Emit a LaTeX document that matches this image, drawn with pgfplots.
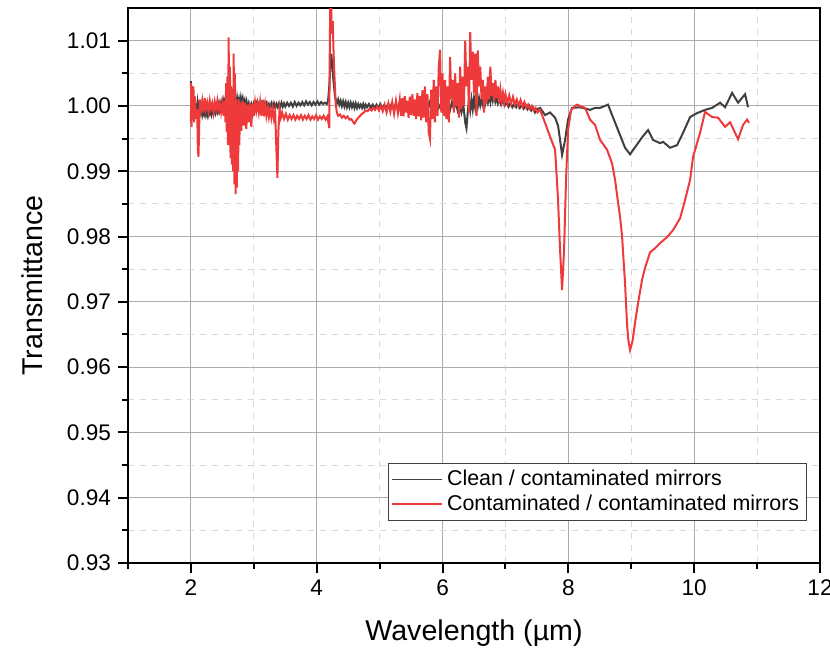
\documentclass[border=0pt]{standalone}
\usepackage{pgfplots}
\pgfplotsset{compat=1.18}
\usepackage{fontspec}
\setmainfont{Liberation Sans}
\definecolor{cleanc}{RGB}{64,64,64}
\definecolor{contc}{RGB}{238,58,58}
\begin{document}
\begin{tikzpicture}
\useasboundingbox (-64pt,-45pt) rectangle (351pt,281.5pt);
\begin{axis}[
  at={(0,0)}, anchor=south west,
  scale only axis, width=346pt, height=277.5pt,
  xmin=1, xmax=12, ymin=0.93, ymax=1.015,
  xtick={2,4,6,8,10,12}, minor xtick={1,3,5,7,9,11},
  ytick={0.93,0.94,0.95,0.96,0.97,0.98,0.99,1.00,1.01},
  minor ytick={0.935,0.945,0.955,0.965,0.975,0.985,0.995,1.005},
  yticklabel style={/pgf/number format/.cd, fixed, fixed zerofill, precision=2},
  /pgf/number format/assume math mode=true,
  ticklabel style={font=\fontsize{11.3}{13}\selectfont},
  xtick pos=bottom, ytick pos=left, tick align=outside,
  major tick length=5pt, minor tick length=3pt,
  tick style={black, line width=1pt},
  axis line style={line width=1pt},
  grid=both,
  major grid style={gray!65, line width=0.5pt, solid},
  minor grid style={gray!30, line width=0.5pt, dashed},
  xlabel={Wavelength (µm)}, ylabel={Transmittance},
  label style={font=\fontsize{14.3}{16}\selectfont},
  xlabel style={at={(axis description cs:0.5,0)}, anchor=center, yshift=-35pt},
  ylabel style={at={(axis description cs:0,0.5)}, anchor=center, yshift=48pt},
  clip=true,
  legend style={at={(rel axis cs:0.376,0.076)}, anchor=south west,
    font=\fontsize{10.7}{12}\selectfont, draw=black!75, line width=0.5pt,
    inner sep=1.5pt, row sep=-1pt, cells={anchor=west}},
  legend image code/.code={\draw[#1, line width=0.7pt] (0pt,0pt) -- (25pt,0pt);},
]
\addplot[cleanc, line width=1pt] table {
2.000 1.0038
2.008 1.0000
2.015 1.0030
2.022 0.9985
2.030 1.0020
2.040 0.9978
2.050 1.0005
2.060 0.9982
2.075 0.9998
2.090 0.9990
2.105 1.0005
2.120 0.9992
2.135 1.0008
2.150 0.9990
2.165 0.9996
2.180 0.9986
2.195 0.9993
2.210 0.9987
2.225 0.9994
2.240 0.9986
2.255 0.9992
2.270 0.9985
2.285 0.9993
2.300 0.9988
2.315 0.9995
2.330 0.9987
2.345 0.9994
2.360 0.9989
2.375 0.9997
2.390 0.9990
2.405 0.9998
2.420 0.9992
2.435 1.0002
2.450 0.9994
2.465 1.0004
2.480 0.9997
2.495 1.0006
2.510 0.9998
2.525 1.0008
2.540 0.9999
2.555 1.0010
2.570 1.0000
2.585 1.0006
2.600 0.9996
2.615 1.0008
2.630 0.9998
2.645 1.0005
2.660 0.9995
2.675 1.0007
2.690 0.9997
2.705 1.0010
2.720 0.9999
2.735 1.0012
2.750 1.0002
2.765 1.0010
2.780 1.0000
2.795 1.0012
2.810 1.0003
2.825 1.0011
2.840 1.0002
2.855 1.0008
2.870 0.9998
2.885 1.0006
2.900 0.9996
2.920 1.0004
2.940 0.9995
2.960 1.0003
2.980 0.9996
3.000 1.0004
3.020 0.9997
3.040 1.0004
3.060 0.9996
3.080 1.0003
3.100 0.9997
3.120 1.0004
3.140 0.9997
3.160 1.0005
3.180 0.9998
3.200 1.0004
3.220 0.9998
3.240 1.0003
3.260 0.9997
3.280 1.0004
3.300 0.9998
3.320 1.0004
3.340 0.9997
3.360 1.0003
3.380 0.9998
3.400 1.0004
3.420 0.9999
3.440 1.0005
3.460 0.9999
3.480 1.0004
3.500 0.9999
3.530 1.0005
3.560 1.0000
3.590 1.0005
3.620 0.9999
3.650 1.0006
3.680 1.0000
3.710 1.0005
3.740 1.0001
3.770 1.0006
3.800 1.0001
3.830 1.0007
3.860 1.0002
3.890 1.0006
3.920 1.0001
3.950 1.0006
3.980 1.0002
4.010 1.0007
4.040 1.0002
4.070 1.0006
4.100 1.0003
4.130 1.0005
4.160 1.0003
4.180 1.0008
4.200 1.0030
4.215 1.0060
4.230 1.0080
4.245 1.0065
4.260 1.0045
4.275 1.0030
4.290 1.0015
4.305 1.0008
4.320 1.0004
4.340 1.0010
4.360 1.0002
4.380 1.0008
4.400 1.0000
4.420 1.0007
4.440 0.9999
4.460 1.0006
4.480 0.9998
4.500 1.0005
4.520 0.9998
4.540 1.0005
4.560 0.9998
4.580 1.0004
4.600 0.9997
4.620 1.0004
4.640 0.9997
4.660 1.0003
4.680 0.9998
4.700 1.0002
4.720 0.9997
4.740 1.0003
4.760 0.9997
4.780 1.0002
4.800 0.9998
4.830 1.0003
4.860 0.9997
4.890 1.0002
4.920 0.9996
4.950 1.0002
4.980 0.9997
5.010 1.0003
5.040 0.9997
5.070 1.0001
5.100 0.9996
5.130 1.0002
5.160 0.9997
5.190 1.0003
5.220 0.9996
5.250 1.0002
5.280 0.9997
5.310 1.0003
5.340 0.9995
5.370 1.0002
5.400 0.9996
5.430 1.0003
5.460 0.9996
5.490 1.0004
5.520 0.9995
5.550 1.0003
5.580 0.9994
5.610 1.0004
5.640 0.9996
5.670 1.0005
5.700 0.9995
5.730 1.0003
5.760 0.9994
5.790 1.0005
5.820 0.9995
5.850 1.0004
5.880 0.9996
5.910 1.0006
5.940 0.9997
5.970 1.0003
6.000 0.9994
6.030 1.0005
6.060 0.9995
6.090 1.0004
6.120 0.9994
6.150 1.0006
6.180 0.9996
6.210 1.0005
6.240 0.9993
6.270 1.0003
6.300 0.9990
6.330 1.0002
6.360 0.9975
6.380 0.9966
6.400 0.9990
6.420 1.0008
6.440 0.9993
6.460 1.0010
6.480 0.9995
6.500 1.0012
6.520 0.9997
6.540 1.0010
6.560 0.9999
6.580 1.0012
6.600 1.0001
6.620 1.0010
6.640 1.0002
6.660 1.0014
6.680 1.0004
6.700 1.0012
6.720 1.0005
6.740 1.0015
6.760 1.0006
6.780 1.0020
6.800 1.0008
6.820 1.0016
6.840 1.0006
6.860 1.0012
6.880 1.0004
6.900 1.0010
6.930 1.0002
6.960 1.0008
6.990 1.0001
7.020 1.0006
7.050 0.9999
7.080 1.0005
7.110 0.9998
7.140 1.0003
7.170 0.9998
7.200 1.0004
7.230 0.9997
7.260 1.0002
7.290 0.9996
7.320 1.0002
7.350 0.9995
7.380 1.0000
7.410 0.9993
7.440 0.9997
7.470 0.9990
7.500 0.9995
7.550 0.9997
7.630 0.9986
7.709 0.9990
7.789 0.9982
7.836 0.9970
7.868 0.9948
7.900 0.9925
7.948 0.9948
7.995 0.9979
8.059 0.9997
8.186 0.9998
8.266 0.9996
8.345 0.9994
8.424 0.9997
8.504 0.9997
8.631 1.0002
8.695 0.9986
8.790 0.9963
8.901 0.9936
8.981 0.9926
9.092 0.9941
9.172 0.9952
9.267 0.9963
9.346 0.9948
9.458 0.9943
9.506 0.9945
9.617 0.9936
9.728 0.9940
9.824 0.9959
9.935 0.9983
10.046 0.9989
10.173 0.9994
10.285 0.9997
10.412 1.0005
10.491 0.9998
10.603 1.0020
10.698 1.0005
10.809 1.0018
10.857 0.9998
};
\addlegendentry{Clean / contaminated mirrors}
\addplot[contc, line width=1pt] table {
2.000 0.9975
2.005 1.0035
2.010 0.9968
2.020 1.0025
2.030 0.9985
2.040 1.0030
2.050 0.9975
2.060 1.0015
2.080 0.9980
2.100 0.9995
2.110 0.9935
2.120 0.9922
2.130 0.9960
2.140 1.0010
2.160 0.9995
2.180 1.0008
2.200 0.9990
2.220 1.0012
2.240 0.9995
2.260 1.0005
2.280 0.9992
2.300 1.0008
2.320 0.9996
2.340 1.0004
2.360 0.9990
2.380 1.0006
2.400 0.9995
2.420 1.0008
2.440 0.9994
2.460 1.0003
2.480 0.9990
2.500 1.0004
2.520 0.9985
2.540 1.0008
2.550 0.9975
2.560 1.0035
2.570 0.9960
2.580 1.0045
2.590 0.9940
2.600 1.0105
2.610 0.9950
2.620 1.0060
2.630 0.9920
2.640 1.0030
2.650 0.9910
2.660 1.0020
2.670 0.9900
2.680 1.0080
2.690 0.9880
2.700 1.0050
2.710 0.9865
2.720 1.0010
2.730 0.9875
2.740 1.0000
2.750 0.9900
2.760 1.0010
2.770 0.9940
2.780 1.0005
2.800 0.9962
2.820 1.0008
2.840 0.9970
2.860 1.0005
2.880 0.9965
2.900 1.0002
2.920 0.9975
2.940 1.0005
2.960 0.9968
2.980 1.0003
3.000 0.9985
3.020 1.0006
3.040 0.9992
3.060 1.0004
3.080 0.9990
3.100 1.0006
3.120 0.9985
3.140 1.0009
3.160 0.9984
3.180 1.0002
3.200 0.9985
3.220 0.9998
3.240 0.9983
3.260 0.9995
3.280 0.9982
3.300 0.9996
3.320 0.9980
3.340 0.9990
3.360 0.9930
3.375 0.9890
3.390 0.9960
3.410 0.9995
3.430 0.9982
3.450 0.9990
3.480 0.9980
3.510 0.9988
3.540 0.9979
3.570 0.9986
3.600 0.9980
3.630 0.9986
3.660 0.9979
3.690 0.9985
3.720 0.9980
3.750 0.9986
3.780 0.9979
3.810 0.9985
3.840 0.9980
3.870 0.9986
3.900 0.9979
3.930 0.9984
3.960 0.9980
3.990 0.9986
4.020 0.9979
4.050 0.9984
4.080 0.9980
4.110 0.9985
4.140 0.9979
4.170 0.9984
4.190 0.9972
4.200 0.9966
4.205 1.0060
4.215 1.0160
4.225 1.0200
4.235 1.0120
4.245 1.0110
4.255 1.0130
4.265 1.0090
4.280 1.0050
4.290 1.0030
4.300 1.0005
4.320 0.9990
4.340 0.9985
4.370 0.9987
4.400 0.9982
4.430 0.9985
4.460 0.9981
4.490 0.9984
4.520 0.9979
4.550 0.9980
4.580 0.9975
4.600 0.9973
4.630 0.9978
4.660 0.9982
4.690 0.9985
4.720 0.9988
4.750 0.9990
4.780 0.9993
4.810 0.9992
4.840 0.9996
4.870 0.9993
4.900 0.9997
4.930 0.9994
4.960 0.9999
4.990 0.9993
5.020 1.0000
5.050 0.9992
5.080 1.0002
5.110 0.9990
5.140 1.0004
5.170 0.9991
5.200 1.0006
5.230 0.9988
5.260 1.0008
5.290 0.9989
5.320 1.0010
5.340 0.9985
5.360 1.0012
5.380 0.9984
5.400 1.0015
5.420 0.9990
5.440 1.0008
5.460 0.9982
5.480 1.0014
5.500 0.9986
5.520 1.0018
5.540 0.9985
5.560 1.0010
5.580 0.9980
5.600 1.0020
5.620 0.9984
5.640 1.0015
5.660 0.9978
5.680 1.0024
5.700 0.9982
5.720 1.0030
5.740 0.9975
5.760 1.0018
5.780 0.9960
5.800 0.9950
5.820 1.0025
5.840 0.9980
5.860 1.0040
5.880 0.9975
5.900 1.0030
5.920 0.9985
5.940 1.0060
5.960 1.0086
5.980 0.9990
6.000 1.0050
6.020 0.9985
6.040 1.0040
6.060 0.9980
6.080 1.0030
6.100 0.9975
6.120 1.0075
6.140 1.0010
6.160 1.0040
6.180 0.9990
6.200 1.0050
6.220 1.0000
6.240 1.0035
6.260 0.9982
6.280 1.0060
6.300 0.9995
6.320 1.0045
6.340 1.0000
6.360 1.0100
6.380 1.0030
6.400 1.0060
6.420 0.9990
6.440 1.0113
6.460 1.0040
6.480 1.0083
6.500 1.0020
6.520 1.0080
6.540 0.9985
6.560 1.0085
6.580 1.0030
6.600 1.0060
6.620 1.0010
6.640 1.0040
6.660 0.9990
6.680 1.0030
6.700 1.0005
6.720 1.0045
6.740 1.0010
6.760 1.0060
6.780 1.0015
6.800 1.0035
6.820 1.0008
6.840 1.0040
6.860 1.0012
6.880 1.0030
6.900 1.0005
6.920 1.0025
6.940 1.0008
6.960 1.0020
6.980 1.0005
7.000 1.0018
7.030 1.0004
7.060 1.0016
7.090 1.0003
7.120 1.0014
7.150 1.0002
7.180 1.0010
7.210 1.0000
7.240 1.0009
7.270 0.9999
7.300 1.0006
7.330 0.9997
7.360 1.0002
7.390 0.9995
7.420 1.0000
7.450 0.9993
7.480 0.9997
7.510 0.9990
7.550 0.9994
7.630 0.9974
7.709 0.9953
7.789 0.9933
7.836 0.9856
7.868 0.9780
7.900 0.9718
7.932 0.9780
7.963 0.9887
7.995 0.9963
8.043 0.9994
8.107 1.0000
8.138 1.0002
8.186 1.0000
8.266 0.9997
8.345 0.9979
8.424 0.9971
8.504 0.9948
8.615 0.9933
8.695 0.9912
8.742 0.9887
8.790 0.9852
8.822 0.9830
8.854 0.9800
8.880 0.9760
8.901 0.9729
8.933 0.9665
8.955 0.9640
8.981 0.9626
9.020 0.9640
9.060 0.9668
9.108 0.9698
9.172 0.9734
9.219 0.9752
9.299 0.9776
9.378 0.9782
9.458 0.9790
9.569 0.9799
9.665 0.9810
9.776 0.9828
9.855 0.9856
9.935 0.9887
9.982 0.9922
10.094 0.9959
10.173 0.9991
10.285 0.9983
10.380 0.9982
10.491 0.9968
10.571 0.9975
10.698 0.9949
10.777 0.9971
10.841 0.9979
10.873 0.9974
};
\addlegendentry{Contaminated / contaminated mirrors}
\end{axis}
\end{tikzpicture}
\end{document}
